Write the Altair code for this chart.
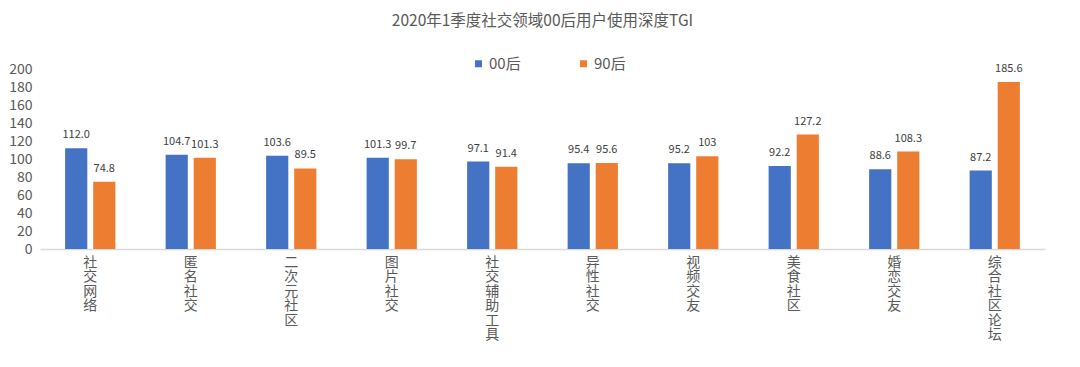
import altair as alt
import pandas as pd

categories = ["社交网络", "匿名社交", "二次元社区", "图片社交", "社交辅助工具",
              "异性社交", "视频交友", "美食社区", "婚恋交友", "综合社区论坛"]
series = ["00后", "90后"]
v00 = [112.0, 104.7, 103.6, 101.3, 97.1, 95.4, 95.2, 92.2, 88.6, 87.2]
v90 = [74.8, 101.3, 89.5, 99.7, 91.4, 95.6, 103, 127.2, 108.3, 185.6]
l00 = ["112.0", "104.7", "103.6", "101.3", "97.1", "95.4", "95.2", "92.2", "88.6", "87.2"]
l90 = ["74.8", "101.3", "89.5", "99.7", "91.4", "95.6", "103", "127.2", "108.3", "185.6"]
colors = ["#4472C4", "#ED7D31"]
y_ticks = [0, 20, 40, 60, 80, 100, 120, 140, 160, 180, 200]

rows = []
for i, c in enumerate(categories):
    rows.append({"cat": c, "series": series[0], "value": v00[i], "label": l00[i]})
    rows.append({"cat": c, "series": series[1], "value": v90[i], "label": l90[i]})
df = pd.DataFrame(rows)

FONT = "Noto Sans CJK SC"
GREY = "#595959"

x = alt.X("cat:N", sort=categories, title=None,
          scale=alt.Scale(paddingInner=0.5, paddingOuter=0.25),
          axis=alt.Axis(labelAngle=0, labelExpr="split(datum.label, '')",
                        labelFont=FONT, labelFontSize=14, labelColor=GREY,
                        labelLineHeight=14.5, labelBaseline="top", labelPadding=6,
                        ticks=False, domainColor="#d9d9d9", domainWidth=1.5,
                        grid=False))
xo = alt.XOffset("series:N", sort=series,
                 scale=alt.Scale(paddingInner=0.21, paddingOuter=0))
y = alt.Y("value:Q", title=None,
          scale=alt.Scale(domain=[0, 200], nice=False),
          axis=alt.Axis(values=y_ticks, grid=False, domain=False, ticks=False,
                        labelFont=FONT, labelFontSize=14, labelColor=GREY,
                        labelPadding=8))
color = alt.Color("series:N", sort=series,
                  scale=alt.Scale(domain=series, range=colors),
                  legend=alt.Legend(title=None, orient="none", direction="horizontal",
                                    legendX=431, legendY=-13, symbolType="square",
                                    symbolSize=49, symbolStrokeWidth=0,
                                    labelFont=FONT, labelFontSize=15, labelColor=GREY,
                                    labelOffset=3, columnPadding=55, padding=0))

base = alt.Chart(df)
bars = base.mark_bar().encode(x=x, xOffset=xo, y=y, color=color)
text = base.mark_text(dy=-8, baseline="bottom", font=FONT, fontSize=11,
                      color="#404040").encode(x=x, xOffset=xo, y=y, text="label:N")

chart = (bars + text).properties(
    width=1005, height=180,
    autosize=alt.AutoSizeParams(type="none"),
    padding={"left": 32, "top": 61, "right": 27, "bottom": 110},
    title=alt.TitleParams("2020年1季度社交领域00后用户使用深度TGI", font=FONT,
                          fontSize=15.5, fontWeight="normal", color=GREY,
                          anchor="middle", offset=27),
).configure_view(stroke=None)

chart.save("out.html", embed_options={"renderer": "svg", "actions": False})
